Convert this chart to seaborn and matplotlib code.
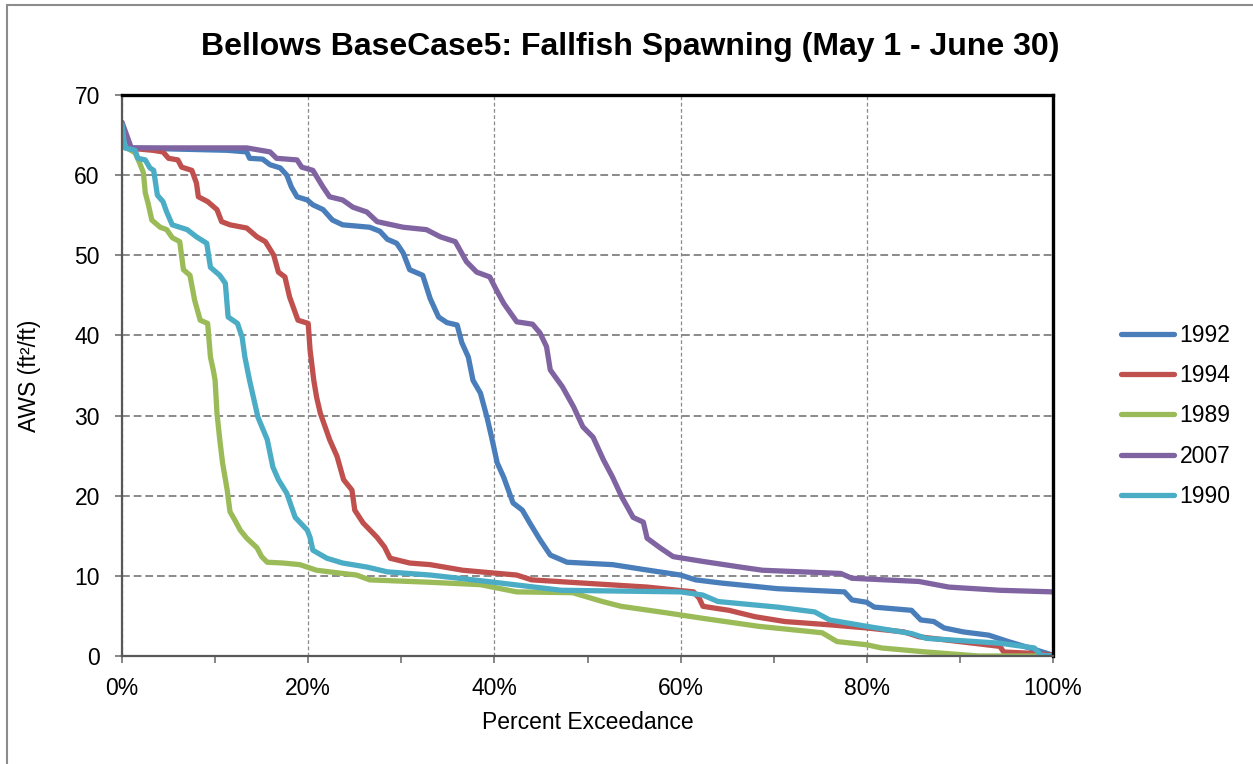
import numpy as np
import pandas as pd
import matplotlib
matplotlib.use("Agg")
import matplotlib.pyplot as plt
from matplotlib.ticker import MultipleLocator, PercentFormatter
from matplotlib.lines import Line2D
import seaborn as sns

# ------------------------
#  Data: (percent exceedance, AWS)
# ------------------------
years = ["1992", "1994", "1989", "2007", "1990"]
colors = ["#4A7EBB", "#C0504D", "#9BBB59", "#8064A2", "#4BACC6"]

pts_1992 = [(0, 64.0), (0.5, 63.4), (11.3, 63.1), (13.4, 62.9), (13.7, 62.1), (15.1, 62.0),
            (15.9, 61.3), (17.0, 60.9), (17.7, 60.0), (18.2, 58.5), (18.8, 57.3), (19.9, 56.9),
            (20.5, 56.3), (21.6, 55.7), (22.6, 54.4), (23.7, 53.8), (26.6, 53.5), (27.7, 53.0),
            (28.5, 52.0), (29.5, 51.5), (30.2, 50.3), (30.9, 48.2), (32.3, 47.5), (33.1, 44.6),
            (34.0, 42.3), (34.9, 41.6), (36.0, 41.3), (36.5, 39.1), (37.2, 37.3), (37.7, 34.4),
            (38.5, 32.8), (39.2, 29.8), (39.7, 27.3), (40.3, 24.1), (41.0, 22.3), (42.0, 19.1),
            (43.0, 18.2), (43.8, 16.6), (44.9, 14.5), (46.0, 12.6), (47.8, 11.7), (52.7, 11.4),
            (56.0, 10.8), (60.0, 10.1), (61.6, 9.5), (64.4, 9.1), (70.4, 8.4), (77.6, 8.0),
            (78.4, 7.0), (80.0, 6.7), (80.8, 6.1), (84.8, 5.7), (85.8, 4.5), (87.2, 4.3),
            (88.3, 3.5), (90.4, 3.0), (93.1, 2.6), (95.2, 1.8), (97.5, 1.0), (100, 0.1)]

pts_1994 = [(0, 63.6), (0.5, 63.4), (3.3, 63.1), (4.4, 62.9), (5.0, 62.1), (6.0, 61.9),
            (6.4, 61.0), (7.5, 60.6), (8.0, 59.0), (8.2, 57.3), (9.2, 56.7), (10.2, 55.7),
            (10.7, 54.2), (11.6, 53.8), (13.4, 53.4), (14.5, 52.3), (15.4, 51.7), (16.3, 50.0),
            (16.8, 47.9), (17.5, 47.3), (18.0, 44.8), (18.9, 41.9), (20.0, 41.5), (20.2, 38.2),
            (20.6, 34.4), (20.9, 32.3), (21.3, 30.3), (22.3, 27.0), (23.1, 24.9), (23.8, 22.0),
            (24.7, 20.7), (25.0, 18.2), (25.9, 16.6), (27.4, 14.8), (28.2, 13.6), (28.8, 12.2),
            (30.9, 11.6), (33.1, 11.4), (36.6, 10.7), (38.5, 10.5), (42.4, 10.1), (44.0, 9.5),
            (56.4, 8.6), (61.4, 8.0), (62.0, 7.2), (62.4, 6.2), (65.2, 5.7), (68.0, 4.9),
            (71.2, 4.3), (75.9, 3.9), (80.0, 3.5), (84.0, 3.0), (85.6, 2.4), (94.3, 1.2),
            (94.7, 0.5), (98.3, 0.3), (100, 0.1)]

pts_1989 = [(0, 63.6), (0.5, 63.4), (1.4, 62.8), (1.9, 61.5), (2.3, 60.3), (2.5, 57.8),
            (2.8, 56.5), (3.2, 54.4), (4.1, 53.5), (4.8, 53.2), (5.4, 52.2), (6.2, 51.7),
            (6.6, 48.2), (7.3, 47.5), (7.8, 44.4), (8.4, 41.9), (9.2, 41.5), (9.5, 37.3),
            (9.8, 35.7), (10.0, 34.4), (10.2, 30.3), (10.5, 27.0), (10.8, 24.1), (11.3, 20.7),
            (11.6, 18.0), (12.1, 17.0), (12.7, 15.7), (13.4, 14.7), (14.5, 13.5), (15.0, 12.4),
            (15.6, 11.7), (17.3, 11.6), (19.1, 11.4), (20.9, 10.7), (23.7, 10.3), (25.2, 10.1),
            (26.6, 9.5), (33.1, 9.2), (38.5, 8.9), (42.4, 8.0), (48.4, 7.9), (51.6, 6.8),
            (53.6, 6.2), (58.4, 5.4), (62.4, 4.7), (68.4, 3.7), (75.2, 2.9), (76.8, 1.8),
            (80.0, 1.4), (81.6, 1.0), (86.4, 0.5), (92.0, 0.0), (100, 0.0)]

pts_2007 = [(0, 66.6), (1.0, 63.4), (13.4, 63.4), (15.9, 62.9), (16.6, 62.1), (18.8, 61.9),
            (19.3, 61.0), (20.5, 60.6), (21.6, 58.5), (22.3, 57.3), (23.7, 56.9), (24.8, 56.0),
            (26.3, 55.4), (27.4, 54.2), (30.2, 53.5), (32.7, 53.2), (34.2, 52.3), (35.8, 51.7),
            (37.0, 49.2), (38.1, 47.9), (39.5, 47.3), (40.2, 45.7), (41.0, 44.0), (42.4, 41.7),
            (44.1, 41.4), (44.9, 40.3), (45.6, 38.6), (46.0, 35.7), (47.3, 33.6), (48.5, 31.1),
            (49.5, 28.6), (50.6, 27.3), (51.7, 24.5), (52.7, 22.3), (53.7, 19.8), (54.9, 17.3),
            (56.0, 16.7), (56.4, 14.7), (57.8, 13.5), (59.2, 12.4), (62.4, 11.8), (66.4, 11.1),
            (68.8, 10.7), (77.2, 10.3), (78.4, 9.7), (85.6, 9.3), (88.8, 8.6), (94.3, 8.2),
            (100, 8.0)]

pts_1990 = [(0, 66.3), (0.3, 63.4), (1.4, 63.1), (1.7, 62.1), (2.5, 61.9), (3.0, 60.9),
            (3.4, 60.6), (3.8, 57.5), (4.4, 56.7), (4.8, 55.4), (5.4, 53.8), (7.0, 53.2),
            (8.0, 52.3), (9.1, 51.5), (9.5, 48.5), (10.5, 47.5), (11.1, 46.5), (11.4, 42.3),
            (12.4, 41.5), (12.9, 39.8), (13.2, 37.3), (13.7, 34.4), (14.6, 29.8), (15.6, 27.0),
            (16.2, 23.6), (16.8, 22.0), (17.7, 20.3), (18.6, 17.3), (19.9, 15.7), (20.2, 14.8),
            (20.5, 13.2), (22.0, 12.2), (23.7, 11.6), (26.3, 11.1), (28.5, 10.5), (33.1, 10.1),
            (38.5, 9.4), (47.2, 8.2), (60.0, 8.0), (62.4, 7.6), (64.0, 6.8), (70.4, 6.1),
            (74.4, 5.5), (76.0, 4.5), (80.0, 3.7), (84.8, 2.8), (86.4, 2.2), (94.3, 1.6),
            (98.0, 1.0), (98.7, 0.1), (100, 0.0)]

series = {"1992": pts_1992, "1994": pts_1994, "1989": pts_1989,
          "2007": pts_2007, "1990": pts_1990}

rows = []
for yr, pts in series.items():
    for x, y in pts:
        rows.append({"pct": x, "aws": y, "year": yr})
df = pd.DataFrame(rows)

# ------------------------
#  Plot
# ------------------------
sns.set_theme(style="white")
plt.rcParams["font.family"] = ["Liberation Sans", "DejaVu Sans"]
plt.rcParams["text.color"] = "black"
plt.rcParams["axes.labelcolor"] = "black"

fig = plt.figure(figsize=(12.53, 7.64), dpi=100)
ax = fig.add_axes([122 / 1253, 1 - 656 / 764, 931 / 1253, 561 / 764])

sns.lineplot(data=df, x="pct", y="aws", hue="year", hue_order=years,
             palette=colors, estimator=None, sort=False, linewidth=3.8,
             legend=False, ax=ax)

ax.set_xlim(0, 100)
ax.set_ylim(0, 70)
ax.xaxis.set_major_locator(MultipleLocator(20))
ax.xaxis.set_minor_locator(MultipleLocator(10))
ax.yaxis.set_major_locator(MultipleLocator(10))
ax.xaxis.set_major_formatter(PercentFormatter(100, decimals=0))

ax.grid(axis="y", color="#8a8a8a", linestyle=(0, (4, 2)), linewidth=1.4)
ax.grid(axis="x", color="#8a8a8a", linestyle=(0, (3, 2)), linewidth=0.9)
ax.set_axisbelow(True)

for side in ["top", "right"]:
    ax.spines[side].set_color("black")
    ax.spines[side].set_linewidth(2.4)
for side in ["left", "bottom"]:
    ax.spines[side].set_color("#595959")
    ax.spines[side].set_linewidth(1.6)

ax.tick_params(axis="both", which="both", direction="out", color="#868686",
               width=1.4, labelsize=16.5, labelcolor="black")
ax.tick_params(axis="y", which="major", length=5, pad=11, left=True)
ax.tick_params(axis="x", which="major", length=5, pad=10, bottom=True)
ax.tick_params(axis="x", which="minor", length=5, bottom=True)

ax.set_xlabel("Percent Exceedance", fontsize=16.5, labelpad=8)
ax.set_ylabel("AWS (ft²/ft)", fontsize=16.5, labelpad=24)

fig.text(0.503, 1 - 47 / 764, "Bellows BaseCase5: Fallfish Spawning (May 1 - June 30)",
         ha="center", va="center", fontsize=23, fontweight="bold", color="black")

handles = [Line2D([0], [0], color=c, linewidth=3.8, solid_capstyle="round") for c in colors]
fig.legend(handles, years, loc="center left", bbox_to_anchor=(1121 / 1253, 1 - 416 / 764),
           frameon=False, fontsize=16.5, handlelength=2.3, handletextpad=0.25,
           labelspacing=0.76, borderpad=0, borderaxespad=0)

# outer chart border (left and top)
fig.add_artist(Line2D([7 / 1253, 7 / 1253], [0, 1 - 5 / 764], transform=fig.transFigure,
                      color="#8c8c8c", linewidth=1.5))
fig.add_artist(Line2D([7 / 1253, 1], [1 - 5 / 764, 1 - 5 / 764], transform=fig.transFigure,
                      color="#8c8c8c", linewidth=1.5))

fig.savefig("out.png", dpi=100)
